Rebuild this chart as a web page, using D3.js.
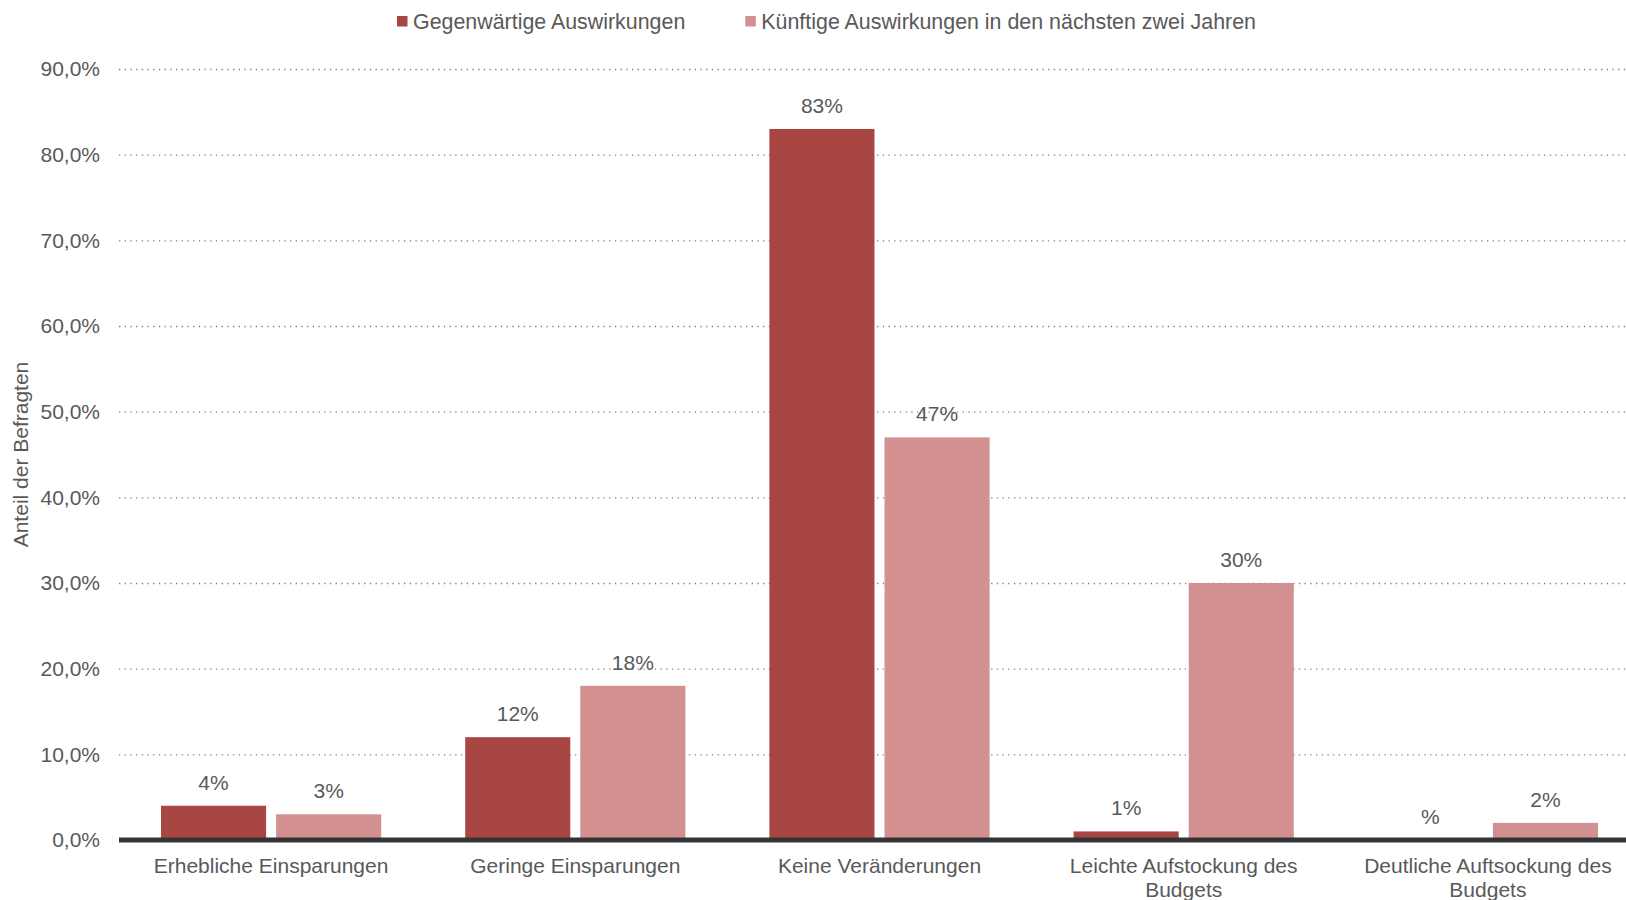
<!DOCTYPE html>
<html>
<head>
<meta charset="utf-8">
<script src="https://cdn.jsdelivr.net/npm/d3@7"></script>
<style>
	body { margin: 0; background: #fff; }
	svg text { font-family: "Liberation Sans", Arial, sans-serif; fill: #595959; }
</style>
</head>
<body>
<svg id="chart" width="1626" height="900"></svg>
<script>
// data
var categories = ["Erhebliche Einsparungen", "Geringe Einsparungen", "Keine Veränderungen",
	"Leichte Aufstockung des Budgets", "Deutliche Auftsockung des Budgets"];
var seriesNames = ["Gegenwärtige Auswirkungen", "Künftige Auswirkungen in den nächsten zwei Jahren"];
var currentValues = [4, 12, 83, 1, null];
var futureValues = [3, 18, 47, 30, 2];
var yTicks = [0, 10, 20, 30, 40, 50, 60, 70, 80, 90];
var colors = ["#A84644", "#D29190"];

var svg = d3.select("#chart");
var plotLeft = 119, plotRight = 1640, plotTop = 69, plotBottom = 840;

var de = d3.formatLocale({ decimal: ",", thousands: ".", grouping: [3], currency: ["", " €"] });
var tickFmt = function(d) { return de.format(".1f")(d) + "%"; };

var y = d3.scaleLinear().domain([0, 90]).range([plotBottom, plotTop]);
var x0 = d3.scaleBand().domain(categories).range([plotLeft, plotRight]);
var x1 = d3.scaleBand().domain(seriesNames).range([42, x0.bandwidth() - 42]).paddingInner(10 / 115);

// grid lines
svg.append("g")
	.attr("transform", "translate(" + plotLeft + ",0)")
	.call(d3.axisLeft(y).tickValues(yTicks.slice(1)).tickSize(-(1626 - plotLeft)).tickFormat(""))
	.call(function(g) {
		g.select(".domain").remove();
		g.selectAll("line")
			.attr("stroke", "#7f7f7f")
			.attr("stroke-width", 1.3)
			.attr("stroke-dasharray", "1.3,4.4");
	});

// y tick labels
svg.append("g")
	.attr("transform", "translate(100,0)")
	.call(d3.axisLeft(y).tickValues(yTicks).tickSize(0).tickPadding(0).tickFormat(tickFmt))
	.call(function(g) {
		g.select(".domain").remove();
		g.selectAll("text").attr("font-size", 21).attr("fill", "#595959").attr("font-family", null);
	});

svg.append("text")
	.attr("transform", "translate(28," + (plotTop + plotBottom) / 2 + ") rotate(-90)")
	.attr("text-anchor", "middle")
	.attr("font-size", 21)
	.text("Anteil der Befragten");

var rows = categories.map(function(c, i) {
	return { cat: c, values: [currentValues[i], futureValues[i]] };
});

var groups = svg.append("g").selectAll("g")
	.data(rows)
	.join("g")
	.attr("transform", function(d) { return "translate(" + x0(d.cat) + ",0)"; });

groups.selectAll("rect")
	.data(function(d) { return d.values.map(function(v, j) { return { s: seriesNames[j], v: v, j: j }; }); })
	.join("rect")
	.attr("x", function(d) { return x1(d.s); })
	.attr("width", x1.bandwidth())
	.attr("y", function(d) { return y(d.v || 0); })
	.attr("height", function(d) { return plotBottom - y(d.v || 0); })
	.attr("fill", function(d) { return colors[d.j]; });

groups.selectAll("text.val")
	.data(function(d) { return d.values.map(function(v, j) { return { s: seriesNames[j], v: v, j: j }; }); })
	.join("text")
	.attr("class", "val")
	.attr("x", function(d) { return x1(d.s) + x1.bandwidth() / 2; })
	.attr("y", function(d) { return y(d.v || 0) - 16; })
	.attr("text-anchor", "middle")
	.attr("font-size", 21)
	.text(function(d) { return (d.v == null ? "" : d.v) + "%"; });

// baseline
svg.append("line")
	.attr("x1", plotLeft).attr("x2", 1626)
	.attr("y1", y(0)).attr("y2", y(0))
	.attr("stroke", "#333")
	.attr("stroke-width", 5);

// category labels, wrapped
function wrap(textSel, width) {
	textSel.each(function() {
		var text = d3.select(this);
		var words = text.text().split(/\s+/);
		var cx = text.attr("x");
		text.text(null);
		var line = [];
		var tspan = text.append("tspan").attr("x", cx).attr("dy", 0);
		words.forEach(function(w) {
			line.push(w);
			tspan.text(line.join(" "));
			if (tspan.node().getComputedTextLength() > width && line.length > 1) {
				line.pop();
				tspan.text(line.join(" "));
				line = [w];
				tspan = text.append("tspan").attr("x", cx).attr("dy", 24).text(w);
			}
		});
	});
}

svg.append("g").selectAll("text")
	.data(categories)
	.join("text")
	.attr("x", function(d) { return x0(d) + x0.bandwidth() / 2; })
	.attr("y", 873)
	.attr("text-anchor", "middle")
	.attr("font-size", 21)
	.text(function(d) { return d; })
	.call(wrap, 262);

// legend
var legend = svg.append("g");
var lx = 397;
seriesNames.forEach(function(name, i) {
	legend.append("rect")
		.attr("x", lx).attr("y", 16)
		.attr("width", 10.5).attr("height", 10.5)
		.attr("fill", colors[i]);
	var t = legend.append("text")
		.attr("x", lx + 16).attr("y", 28.5)
		.attr("font-size", 21.4)
		.text(name);
	lx += 16 + t.node().getComputedTextLength() + 60;
});
</script>
</body>
</html>
